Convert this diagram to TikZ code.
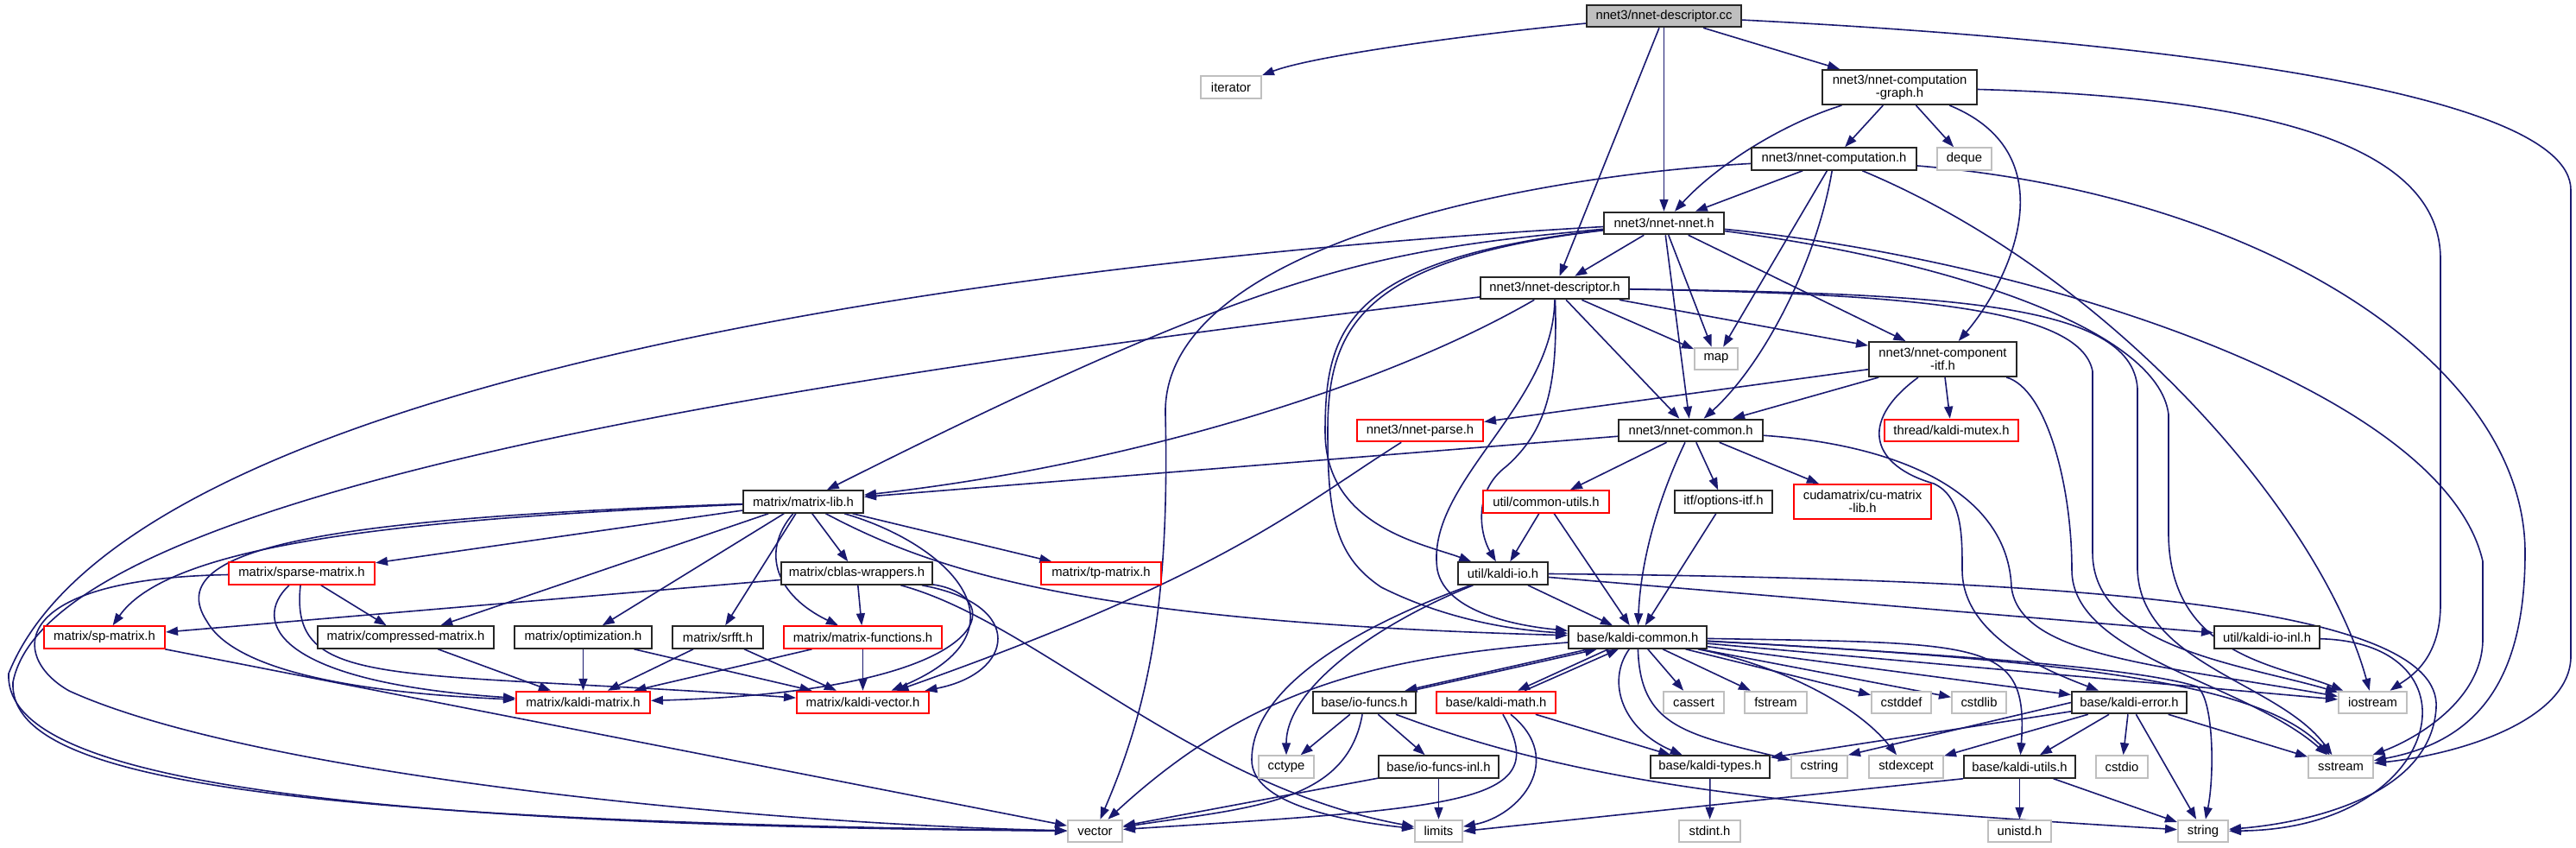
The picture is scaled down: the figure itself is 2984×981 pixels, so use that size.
\documentclass[tikz,border=0pt]{standalone}
\usepackage{fontspec}
\newfontfamily\dxfont{Liberation Sans}
\usetikzlibrary{arrows.meta,calc,backgrounds}
\newcommand\dxlbl{\dxfont\fontsize{7.4}{7.4}\selectfont}
\definecolor{edgec}{RGB}{25,25,112}
\definecolor{graybox}{RGB}{191,191,191}
\tikzset{
  lnk/.style={draw=edgec, line width=0.8pt, -{Triangle[length=7pt,width=5pt]}},
  basebox/.style={rectangle, inner sep=0pt, line width=1pt, font=\dxlbl, align=center, minimum height=12.75pt, fill=white, text=black},
  hb/.style={basebox, draw=black!85},
  sys/.style={basebox, draw=graybox},
  rb/.style={basebox, draw=red},
  bw/.style={minimum width=#1*0.5pt},
  tall/.style={minimum height=20pt},
}
\begin{document}
\begin{tikzpicture}[x=0.5pt,y=-0.5pt]
\useasboundingbox (0,0) rectangle (2984,981);
% nodes
\node[hb,fill=graybox,bw=179] (cc) at (1927.5,18.5) {nnet3/nnet-descriptor.cc};
\node[sys,bw=70] (iter) at (1426,101) {iterator};
\node[hb,bw=179,tall] (cgraph) at (2200.5,101) {nnet3/nnet-computation\\-graph.h};
\node[hb,bw=191] (comp) at (2124.5,184) {nnet3/nnet-computation.h};
\node[sys,bw=63] (deque) at (2275.5,184) {deque};
\node[hb,bw=139] (nnet) at (1927.5,258.5) {nnet3/nnet-nnet.h};
\node[hb,bw=172] (desc) at (1801,333.5) {nnet3/nnet-descriptor.h};
\node[sys,bw=50] (map) at (1988,415.5) {map};
\node[hb,bw=171,tall] (compitf) at (2250.5,416) {nnet3/nnet-component\\-itf.h};
\node[rb,bw=146] (parse) at (1645,498.5) {nnet3/nnet-parse.h};
\node[hb,bw=167] (common) at (1958.5,498.5) {nnet3/nnet-common.h};
\node[rb,bw=155] (mutex) at (2260.5,498.5) {thread/kaldi-mutex.h};
\node[hb,bw=139] (mlib) at (930.5,581) {matrix/matrix-lib.h};
\node[rb,bw=146] (cutils) at (1791,581) {util/common-utils.h};
\node[hb,bw=113] (opts) at (1996.5,581) {itf/options-itf.h};
\node[rb,bw=159,tall] (cumat) at (2157.5,581) {cudamatrix/cu-matrix\\-lib.h};
\node[hb,bw=104] (kio) at (1741,664) {util/kaldi-io.h};
\node[rb,bw=169] (sparse) at (349.5,664) {matrix/sparse-matrix.h};
\node[hb,bw=175] (cblas) at (992.5,664) {matrix/cblas-wrappers.h};
\node[rb,bw=139] (tp) at (1275.5,664) {matrix/tp-matrix.h};
\node[rb,bw=140] (sp) at (121,738) {matrix/sp-matrix.h};
\node[hb,bw=204] (compr) at (470,738) {matrix/compressed-matrix.h};
\node[hb,bw=159] (optim) at (675.5,738) {matrix/optimization.h};
\node[hb,bw=105] (srfft) at (831.5,738) {matrix/srfft.h};
\node[rb,bw=183] (mfun) at (999.5,738) {matrix/matrix-functions.h};
\node[hb,bw=160] (kcommon) at (1897,738) {base/kaldi-common.h};
\node[hb,bw=122] (kioinl) at (2626,738) {util/kaldi-io-inl.h};
\node[rb,bw=155] (kmat) at (675.5,813.5) {matrix/kaldi-matrix.h};
\node[rb,bw=153] (kvec) at (999.5,813.5) {matrix/kaldi-vector.h};
\node[hb,bw=119] (iofuncs) at (1580.5,813.5) {base/io-funcs.h};
\node[rb,bw=138] (kmath) at (1733,813.5) {base/kaldi-math.h};
\node[sys,bw=70] (cassert) at (1962,813.5) {cassert};
\node[sys,bw=72] (fstream) at (2057,813.5) {fstream};
\node[sys,bw=69] (cstddef) at (2202.5,813.5) {cstddef};
\node[sys,bw=63] (cstdlib) at (2292.5,813.5) {cstdlib};
\node[hb,bw=133] (kerror) at (2466.5,813.5) {base/kaldi-error.h};
\node[sys,bw=79] (iostream) at (2748.5,813.5) {iostream};
\node[sys,bw=64] (cctype) at (1490,888) {cctype};
\node[hb,bw=139] (iofuncsinl) at (1666.5,888) {base/io-funcs-inl.h};
\node[hb,bw=138] (ktypes) at (1981,888) {base/kaldi-types.h};
\node[sys,bw=65] (cstring) at (2107.5,888) {cstring};
\node[sys,bw=86] (stdexcept) at (2208,888) {stdexcept};
\node[hb,bw=129] (kutils) at (2339.5,888) {base/kaldi-utils.h};
\node[sys,bw=60] (cstdio) at (2458,888) {cstdio};
\node[sys,bw=75] (sstream) at (2711.5,888) {sstream};
\node[sys,bw=63] (vector) at (1268.5,962.5) {vector};
\node[sys,bw=55] (limits) at (1666.5,962.5) {limits};
\node[sys,bw=71] (stdint) at (1980.5,962.5) {stdint.h};
\node[sys,bw=73] (unistd) at (2339.5,962.5) {unistd.h};
\node[sys,bw=58] (string) at (2552,962.5) {string};

\begin{scope}[on background layer]
\fill[white] (0,0) rectangle (2984,981);
% cc
\draw[lnk] (cc) .. controls (1700,40) and (1520,65) .. (iter);
\draw[lnk] (cc) -- (desc);
\draw[lnk] (cc) -- (nnet);
\draw[lnk] (cc) -- (cgraph);
\draw[lnk] (cc) .. controls (2450,45) and (2978,100) .. (2978,220) -- (2978,760) .. controls (2978,830) and (2860,872) .. (sstream);
% cgraph
\draw[lnk] (cgraph) .. controls (2060,145) and (1985,195) .. (nnet);
\draw[lnk] (cgraph) -- (comp);
\draw[lnk] (cgraph) -- (deque);
\draw[lnk] (cgraph.-20) .. controls (2400,180) and (2325,330) .. (compitf);
\draw[lnk] (cgraph) .. controls (2600,112) and (2827,160) .. (2827,300) -- (2827,700) .. controls (2827,765) and (2790,785) .. (iostream);
% comp
\draw[lnk] (comp) -- (nnet);
\draw[lnk] (comp) .. controls (1750,205) and (1345,290) .. (1350,480) .. controls (1355,700) and (1330,820) .. (vector);
\draw[lnk] (comp) -- (map);
\draw[lnk] (comp) .. controls (2105,300) and (2045,420) .. (common);
\draw[lnk] (comp) .. controls (2450,320) and (2690,600) .. (iostream);
\draw[lnk] (comp) .. controls (2620,225) and (2925,420) .. (2925,640) .. controls (2925,800) and (2860,860) .. (sstream);
% nnet
\draw[lnk] (nnet) -- (desc);
\draw[lnk] (nnet) -- (map);
\draw[lnk] (nnet) -- (common);
\draw[lnk] (nnet) -- (compitf);
\draw[lnk] (nnet) .. controls (1600,290) and (1480,305) .. (mlib);
\draw[lnk] (nnet) .. controls (1200,300) and (150,430) .. (10,780) .. controls (5,890) and (300,955) .. (vector);
\draw[lnk] (nnet) .. controls (1560,300) and (1535,380) .. (1535,500) .. controls (1535,610) and (1650,630) .. (kio);
\draw[lnk] (nnet) .. controls (1575,300) and (1538,380) .. (1538,500) .. controls (1538,600) and (1548,645) .. (1600,680) .. controls (1680,720) and (1760,730) .. (kcommon);
\draw[lnk] (nnet) .. controls (2250,300) and (2500,380) .. (2512,480) -- (2512,620) .. controls (2514,760) and (2640,770) .. (iostream);
\draw[lnk] (nnet) .. controls (2350,300) and (2830,450) .. (2876,650) -- (2876,740) .. controls (2876,810) and (2800,855) .. (sstream);
% desc
\draw[lnk] (desc) .. controls (1600,450) and (1300,540) .. (mlib);
\draw[lnk] (desc) .. controls (1000,430) and (60,560) .. (15,790) .. controls (10,900) and (300,950) .. (vector);
\draw[lnk] (desc) .. controls (1800,470) and (1650,560) .. (1665,660) .. controls (1675,710) and (1760,725) .. (kcommon);
\draw[lnk] (desc) .. controls (1805,450) and (1790,500) .. (1745,540) .. controls (1705,570) and (1715,620) .. (kio);
\draw[lnk] (desc) -- (common);
\draw[lnk] (desc) -- (map);
\draw[lnk] (desc) -- (compitf);
\draw[lnk] (desc) .. controls (2200,340) and (2410,355) .. (2424,430) -- (2424,640) .. controls (2424,750) and (2600,770) .. (iostream);
\draw[lnk] (desc) .. controls (2250,340) and (2470,350) .. (2476,450) -- (2476,660) .. controls (2480,770) and (2640,790) .. (sstream);
% common
\draw[lnk] (common) -- (mlib);
\draw[lnk] (common) -- (cutils);
\draw[lnk] (common) .. controls (1915,590) and (1900,660) .. (kcommon);
\draw[lnk] (common) -- (opts);
\draw[lnk] (common) -- (cumat);
\draw[lnk] (common) .. controls (2200,515) and (2326,570) .. (2330,680) .. controls (2340,760) and (2500,770) .. (iostream);
% compitf
\draw[lnk] (compitf) -- (parse);
\draw[lnk] (compitf) -- (common);
\draw[lnk] (compitf) -- (mutex);
\draw[lnk] (compitf) .. controls (2150,490) and (2170,540) .. (2240,560) .. controls (2273,575) and (2273,620) .. (2273,660) .. controls (2273,740) and (2380,780) .. (kerror);
\draw[lnk] (compitf) .. controls (2370,450) and (2400,560) .. (2400,660) .. controls (2400,760) and (2600,790) .. (sstream);
% cutils, opts, parse
\draw[lnk] (cutils) -- (kio);
\draw[lnk] (cutils) -- (kcommon);
\draw[lnk] (opts) -- (kcommon);
\draw[lnk] (parse) .. controls (1500,590) and (1420,665) .. (kvec);
% mlib
\draw[lnk] (mlib) -- (sparse);
\draw[lnk] (mlib) .. controls (500,600) and (200,625) .. (sp);
\draw[lnk] (mlib) .. controls (400,600) and (180,630) .. (240,720) .. controls (280,790) and (480,805) .. (kmat);
\draw[lnk] (mlib) -- (compr);
\draw[lnk] (mlib) -- (optim);
\draw[lnk] (mlib) -- (srfft);
\draw[lnk] (mlib) .. controls (880,640) and (900,690) .. (mfun);
\draw[lnk] (mlib) -- (cblas);
\draw[lnk] (mlib) .. controls (1100,630) and (1200,730) .. (kvec);
\draw[lnk] (mlib) -- (tp);
\draw[lnk] (mlib) .. controls (1080,660) and (1250,720) .. (kcommon);
% sparse
\draw[lnk] (sparse) .. controls (10,670) and (10,760) .. (80,800) .. controls (300,900) and (900,955) .. (vector);
\draw[lnk] (sparse) .. controls (290,720) and (320,790) .. (kmat);
\draw[lnk] (sparse) .. controls (335,800) and (450,775) .. (kvec);
\draw[lnk] (sparse) -- (compr);
% cblas
\draw[lnk] (cblas) -- (sp);
\draw[lnk] (cblas) -- (mfun);
\draw[lnk] (cblas) .. controls (1170,690) and (1160,800) .. (kmat);
\draw[lnk] (cblas) .. controls (1190,700) and (1175,780) .. (kvec);
\draw[lnk] (cblas) .. controls (1200,720) and (1380,910) .. (limits);
% other matrix
\draw[lnk] (sp) -- (vector);
\draw[lnk] (compr) -- (kmat);
\draw[lnk] (optim) -- (kmat);
\draw[lnk] (optim) -- (kvec);
\draw[lnk] (srfft) -- (kmat);
\draw[lnk] (srfft) -- (kvec);
\draw[lnk] (mfun) -- (kmat);
\draw[lnk] (mfun) -- (kvec);
% kcommon
\draw[lnk] (kcommon) .. controls (1600,760) and (1450,795) .. (vector);
\draw[lnk] ($(kcommon.south)+(-57,0)$) -- ($(iofuncs.north)+(47,0)$);
\draw[lnk] ($(iofuncs.north)+(55,0)$) -- ($(kcommon.south)+(-47,0)$);
\draw[lnk] ($(kcommon.south)+(-34,0)$) -- ($(kmath.north)+(25,0)$);
\draw[lnk] ($(kmath.north)+(33,0)$) -- ($(kcommon.south)+(-22,0)$);
\draw[lnk] (kcommon) -- (cassert);
\draw[lnk] (kcommon) -- (fstream);
\draw[lnk] (kcommon) -- (cstddef);
\draw[lnk] (kcommon) -- (cstdlib);
\draw[lnk] (kcommon) -- (kerror);
\draw[lnk] (kcommon) .. controls (2300,745) and (2350,740) .. (kutils);
\draw[lnk] (kcommon) -- (iostream);
\draw[lnk] (kcommon) .. controls (2400,765) and (2620,790) .. (sstream);
\draw[lnk] (kcommon) .. controls (2300,760) and (2480,775) .. (2545,795) .. controls (2565,810) and (2565,900) .. (string);
\draw[lnk] (kcommon) .. controls (1900,840) and (1950,850) .. (cstring);
\draw[lnk] (kcommon) .. controls (2060,770) and (2150,815) .. (stdexcept);
\draw[lnk] (kcommon) .. controls (1860,790) and (1880,845) .. (ktypes);
% io-funcs, kaldi-math, io-funcs-inl
\draw[lnk] (iofuncs) -- (cctype);
\draw[lnk] (iofuncs) .. controls (1560,930) and (1450,935) .. (vector);
\draw[lnk] (iofuncs) -- (iofuncsinl);
\draw[lnk] (iofuncs) .. controls (1850,915) and (2100,935) .. (string);
\draw[lnk] (kmath) .. controls (1800,930) and (1700,935) .. (vector);
\draw[lnk] (kmath) .. controls (1815,880) and (1760,945) .. (limits);
\draw[lnk] (kmath) -- (ktypes);
\draw[lnk] (iofuncsinl) -- (vector);
\draw[lnk] (iofuncsinl) -- (limits);
\draw[lnk] (ktypes) -- (stdint);
% kaldi-io
\draw[lnk] (kio) -- (kcommon);
\draw[lnk] (kio) -- (kioinl);
\draw[lnk] (kio) .. controls (2400,670) and (2830,700) .. (2822,820) .. controls (2815,930) and (2650,955) .. (string);
\draw[lnk] (kio) .. controls (1600,720) and (1490,795) .. (cctype);
\draw[lnk] (kio) .. controls (1560,730) and (1450,800) .. (1450,880) .. controls (1450,930) and (1550,950) .. (limits);
\draw[lnk] (kioinl) .. controls (2880,745) and (2830,960) .. (string);
% kaldi-error
\draw[lnk] (kerror) -- (ktypes);
\draw[lnk] (kerror.west) -- (cstring.north east);
\draw[lnk] (kerror) -- (stdexcept);
\draw[lnk] (kerror) -- (kutils);
\draw[lnk] (kerror) -- (cstdio);
\draw[lnk] (kerror) -- (string);
\draw[lnk] (kerror) -- (sstream);
% kaldi-utils
\draw[lnk] (kutils) -- (unistd);
\draw[lnk] (kutils) -- (string);
\draw[lnk] (kutils.south west) -- (limits.east);
\end{scope}
\end{tikzpicture}
\end{document}
